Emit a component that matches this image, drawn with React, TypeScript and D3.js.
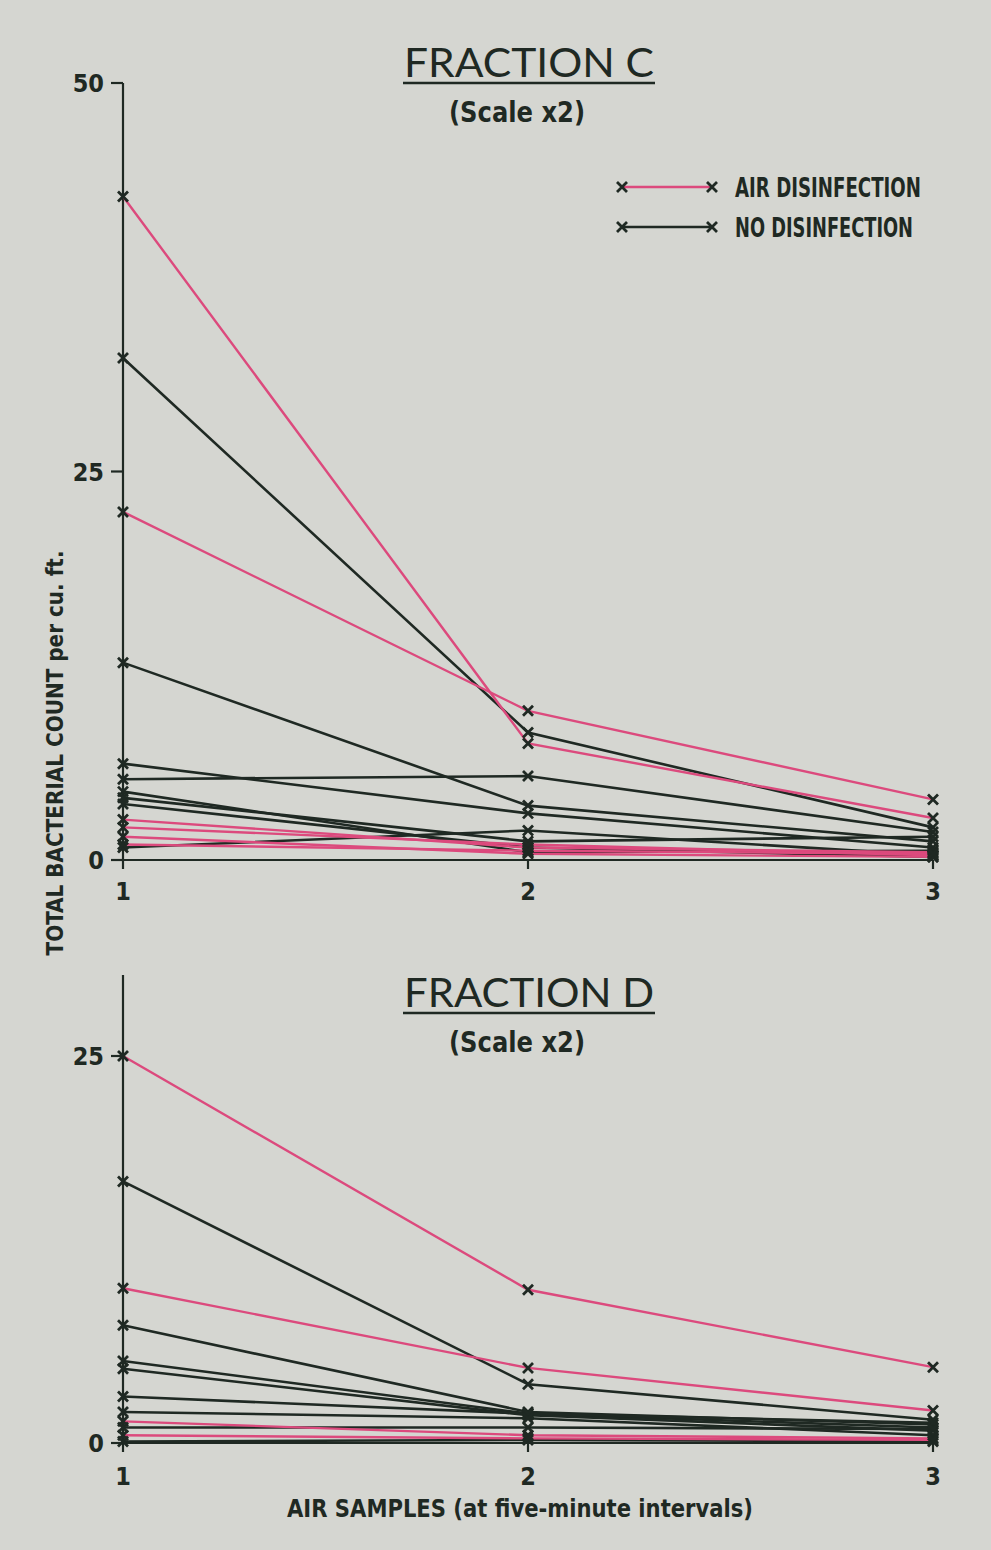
import React from "react";
import * as d3 from "d3";

const samples = [1, 2, 3];

// Fraction C (values per cu. ft., scale x2)
const cAir: number[][] = [
  [42.7, 7.5, 2.7],
  [22.4, 9.6, 3.9],
  [2.6, 0.8, 0.5],
  [2.1, 1.0, 0.3],
  [1.5, 0.4, 0.2],
  [1.0, 0.6, 0.4],
];
const cNone: number[][] = [
  [32.3, 8.2, 2.1],
  [12.7, 3.5, 1.2],
  [6.2, 3.0, 0.8],
  [5.2, 5.4, 1.8],
  [4.4, 0.5, 0.6],
  [4.0, 1.2, 1.5],
  [3.6, 0.8, 0.2],
  [0.8, 1.9, 0.3],
];

// Fraction D
const dAir: number[][] = [
  [25.0, 9.9, 4.9],
  [10.0, 4.85, 2.1],
  [1.4, 0.5, 0.3],
  [0.5, 0.3, 0.2],
];
const dNone: number[][] = [
  [16.9, 3.8, 1.5],
  [7.6, 2.0, 1.2],
  [5.3, 1.9, 1.0],
  [4.8, 1.8, 0.8],
  [3.0, 1.9, 1.3],
  [2.0, 1.6, 0.5],
  [1.0, 1.0, 0.9],
  [0.1, 0.2, 0.1],
];

const cTicks = [0, 25, 50];
const dTicks = [0, 25];

const PINK = "#dc4a7d";
const DARK = "#1f2923";
const BG = "#d5d6d1";
const COND = "'DejaVu Sans Condensed', 'Liberation Sans Narrow', sans-serif";
const THIN = "Lato, 'Open Sans', sans-serif";

const x = d3.scaleLinear().domain([1, 3]).range([123, 933]);
const yC = d3.scaleLinear().domain([0, 50]).range([860, 83]);
const yD = d3.scaleLinear().domain([0, 25]).range([1443, 1056]);

function Marker({ cx, cy }: { cx: number; cy: number }) {
  const s = 5;
  return (
    <path
      d={`M${cx - s},${cy - s}L${cx + s},${cy + s}M${cx + s},${cy - s}L${cx - s},${cy + s}`}
      stroke={DARK}
      strokeWidth={2.8}
      fill="none"
    />
  );
}

function Panel({
  air,
  none,
  y,
  ticks,
  axisTop,
  title,
  titleY,
  tickLabelY,
}: {
  air: number[][];
  none: number[][];
  y: d3.ScaleLinear<number, number>;
  ticks: number[];
  axisTop: number;
  title: string;
  titleY: number;
  tickLabelY: number;
}) {
  const line = d3
    .line<number>()
    .x((_, i) => x(samples[i]))
    .y((d) => y(d));
  const y0 = y(0);
  return (
    <g>
      {/* axes */}
      <line x1={x(1)} x2={x(1)} y1={axisTop} y2={y0} stroke={DARK} strokeWidth={2.2} />
      <line x1={x(1)} x2={x(3)} y1={y0} y2={y0} stroke={DARK} strokeWidth={2.2} />
      {ticks.map((t) => (
        <g key={t}>
          <line x1={x(1) - 12} x2={x(1)} y1={y(t)} y2={y(t)} stroke={DARK} strokeWidth={2.2} />
          <text
            x={x(1) - 19}
            y={y(t) + 9}
            textAnchor="end"
            fontFamily={COND}
            fontWeight="bold"
            fontSize={25}
            fill={DARK}
          >
            {t}
          </text>
        </g>
      ))}
      {samples.map((s) => (
        <g key={s}>
          <line x1={x(s)} x2={x(s)} y1={y0} y2={y0 + 9} stroke={DARK} strokeWidth={2.2} />
          <text
            x={x(s)}
            y={tickLabelY}
            textAnchor="middle"
            fontFamily={COND}
            fontWeight="bold"
            fontSize={25}
            fill={DARK}
          >
            {s}
          </text>
        </g>
      ))}
      {/* lines */}
      {none.map((d, i) => (
        <path key={"n" + i} d={line(d) || ""} stroke={DARK} strokeWidth={2.6} fill="none" />
      ))}
      {air.map((d, i) => (
        <path key={"a" + i} d={line(d) || ""} stroke={PINK} strokeWidth={2.4} fill="none" />
      ))}
      {[...none, ...air].map((d, i) =>
        d.map((v, j) => <Marker key={i + "-" + j} cx={x(samples[j])} cy={y(v)} />)
      )}
      {/* title */}
      <text
        x={529}
        y={titleY}
        textAnchor="middle"
        fontFamily={THIN}
        fontSize={40}
        fill={DARK}
        textLength={250}
        lengthAdjust="spacingAndGlyphs"
      >
        {title}
      </text>
      <line x1={403} x2={655} y1={titleY + 6} y2={titleY + 6} stroke={DARK} strokeWidth={2.5} />
      <text
        x={517}
        y={titleY + 45}
        textAnchor="middle"
        fontFamily={COND}
        fontWeight="bold"
        fontSize={28}
        fill={DARK}
        textLength={136}
        lengthAdjust="spacingAndGlyphs"
      >
        (Scale x2)
      </text>
    </g>
  );
}

export default function App() {
  return (
    <svg
      width={991}
      height={1550}
      style={{ position: "absolute", left: 0, top: 0, display: "block" }}
    >
      <rect x={0} y={0} width={991} height={1550} fill={BG} />
      <Panel
        air={cAir}
        none={cNone}
        y={yC}
        ticks={cTicks}
        axisTop={83}
        title="FRACTION C"
        titleY={77}
        tickLabelY={900}
      />
      <Panel
        air={dAir}
        none={dNone}
        y={yD}
        ticks={dTicks}
        axisTop={975}
        title="FRACTION D"
        titleY={1007}
        tickLabelY={1485}
      />
      {/* legend */}
      <g>
        <line x1={622} x2={712} y1={187} y2={187} stroke={PINK} strokeWidth={2.4} />
        <Marker cx={622} cy={187} />
        <Marker cx={712} cy={187} />
        <text
          x={735}
          y={197}
          fontFamily={COND}
          fontWeight="bold"
          fontSize={26}
          fill={DARK}
          textLength={186}
          lengthAdjust="spacingAndGlyphs"
        >
          AIR DISINFECTION
        </text>
        <line x1={622} x2={712} y1={227} y2={227} stroke={DARK} strokeWidth={2.6} />
        <Marker cx={622} cy={227} />
        <Marker cx={712} cy={227} />
        <text
          x={735}
          y={237}
          fontFamily={COND}
          fontWeight="bold"
          fontSize={26}
          fill={DARK}
          textLength={178}
          lengthAdjust="spacingAndGlyphs"
        >
          NO DISINFECTION
        </text>
      </g>
      {/* axis titles */}
      <text
        transform="translate(63,753) rotate(-90)"
        textAnchor="middle"
        fontFamily={COND}
        fontWeight="bold"
        fontSize={23}
        fill={DARK}
        textLength={405}
        lengthAdjust="spacingAndGlyphs"
      >
        TOTAL BACTERIAL COUNT per cu. ft.
      </text>
      <text
        x={520}
        y={1517}
        textAnchor="middle"
        fontFamily={COND}
        fontWeight="bold"
        fontSize={25}
        fill={DARK}
        textLength={466}
        lengthAdjust="spacingAndGlyphs"
      >
        AIR SAMPLES  (at five-minute intervals)
      </text>
    </svg>
  );
}
